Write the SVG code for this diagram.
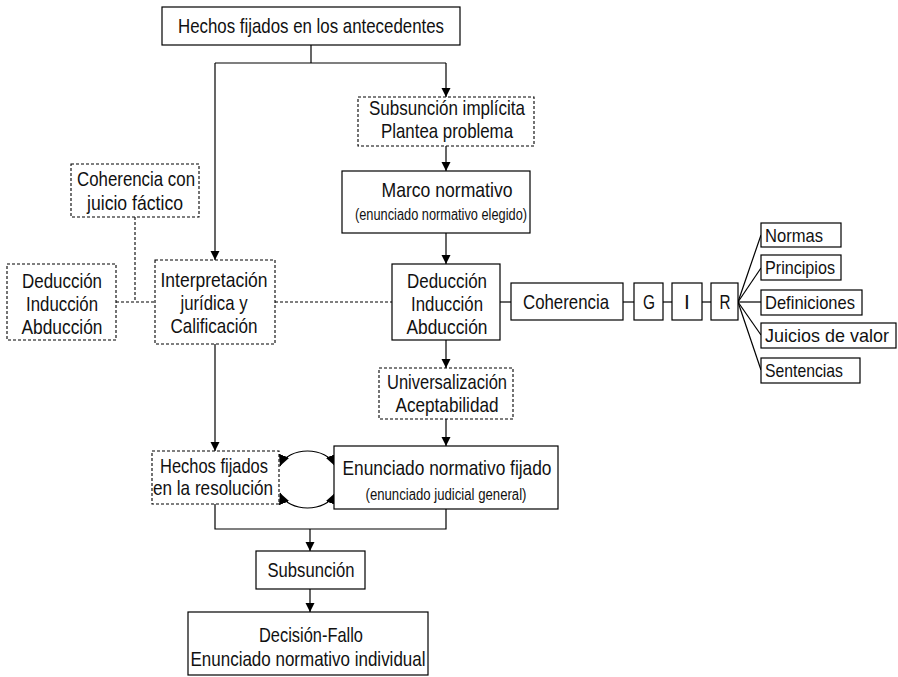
<svg xmlns="http://www.w3.org/2000/svg" width="898" height="677" viewBox="0 0 898 677">
  <style>
    .box { fill: #ffffff; stroke: #000000; stroke-width: 1.2; }
    .dash { fill: #ffffff; stroke: #000000; stroke-width: 1.1; stroke-dasharray: 3 2; }
    .t { font-family: "Liberation Sans", Arial, sans-serif; font-size: 21px; fill: #111111; text-anchor: middle; }
    .r { font-family: "Liberation Sans", Arial, sans-serif; font-size: 19px; fill: #111111; text-anchor: start; }
    .s { font-family: "Liberation Sans", Arial, sans-serif; font-size: 16px; fill: #111111; text-anchor: middle; }
    .ln { fill: none; stroke: #000000; stroke-width: 1.2; }
    .dl { fill: none; stroke: #000000; stroke-width: 1.1; stroke-dasharray: 3 2; }
    .arr { marker-end: url(#ah); }
    .loop { marker-start: url(#lh); marker-end: url(#lh); }
  </style>
  <defs>
    <marker id="ah" markerUnits="userSpaceOnUse" markerWidth="9" markerHeight="10" viewBox="0 0 10 10" refX="10" refY="5" orient="auto-start-reverse">
      <path d="M0,0 L10,5 L0,10 z" fill="#000000"/>
    </marker>
    <!-- larger heads for the two-way loop -->
    <marker id="lh" markerUnits="userSpaceOnUse" markerWidth="11" markerHeight="11" viewBox="0 0 10 10" refX="10" refY="5" orient="auto-start-reverse">
      <path d="M0,0 L10,5 L0,10 z" fill="#000000"/>
    </marker>
  </defs>
  <rect width="898" height="677" fill="#ffffff"/>

  <!-- connectors -->
  <g id="connectors">
    <polyline class="ln" points="311,45 311,63"/>
    <polyline class="ln" points="215,63 446,63"/>
    <polyline class="ln arr" points="446,63 446,97"/>
    <polyline class="ln arr" points="215,63 215,260"/>
    <polyline class="ln arr" points="446,146 446,171"/>
    <polyline class="ln arr" points="446,233 446,264"/>
    <polyline class="dl" points="135,217 135,302"/>
    <polyline class="dl" points="116,302 155,302"/>
    <polyline class="dl" points="275,302 392,302"/>
    <polyline class="ln" points="500,302 511,302"/>
    <polyline class="ln" points="623,302 634,302"/>
    <polyline class="ln" points="663,302 672,302"/>
    <polyline class="ln" points="702,302 711,302"/>
    <polyline class="ln" points="738,302 761,235"/>
    <polyline class="ln" points="738,302 761,268"/>
    <polyline class="ln" points="738,302 761,302"/>
    <polyline class="ln" points="738,302 761,335"/>
    <polyline class="ln" points="738,302 761,370"/>
    <polyline class="ln arr" points="446,340 446,368"/>
    <polyline class="ln arr" points="446,419 446,446"/>
    <polyline class="ln arr" points="215,344 215,451"/>
    <path class="ln loop" d="M280,466 C288,446 327,446 335,466"/>
    <path class="ln loop" d="M280,493 C288,513 327,513 335,493"/>
    <polyline class="ln" points="215,504 215,529 446,529 446,509"/>
    <polyline class="ln arr" points="310,529 310,551"/>
    <polyline class="ln arr" points="310,589 310,612"/>
  </g>

  <g id="hechos-antecedentes">
    <rect class="box" x="162" y="7" width="298" height="38"/>
    <text class="t" x="311" y="33" textLength="266" lengthAdjust="spacingAndGlyphs">Hechos fijados en los antecedentes</text>
  </g>

  <g id="subsuncion-implicita">
    <rect class="dash" x="358" y="97" width="176" height="49"/>
    <text class="t" x="447" y="115" textLength="156" lengthAdjust="spacingAndGlyphs">Subsunción implícita</text>
    <text class="t" x="447" y="138" textLength="132" lengthAdjust="spacingAndGlyphs">Plantea problema</text>
  </g>

  <g id="marco-normativo">
    <rect class="box" x="342" y="171" width="188" height="62"/>
    <text class="t" x="447" y="197" textLength="131" lengthAdjust="spacingAndGlyphs">Marco normativo</text>
    <text class="s" x="441" y="220" textLength="172" lengthAdjust="spacingAndGlyphs">(enunciado normativo elegido)</text>
  </g>

  <g id="coherencia-juicio">
    <rect class="dash" x="71" y="164" width="128" height="53"/>
    <text class="t" x="136" y="186" textLength="118" lengthAdjust="spacingAndGlyphs">Coherencia con</text>
    <text class="t" x="135" y="210" textLength="96" lengthAdjust="spacingAndGlyphs">juicio fáctico</text>
  </g>

  <g id="deduccion-izq">
    <rect class="dash" x="7" y="264" width="109" height="76"/>
    <text class="t" x="62" y="288" textLength="80" lengthAdjust="spacingAndGlyphs">Deducción</text>
    <text class="t" x="62" y="311" textLength="72" lengthAdjust="spacingAndGlyphs">Inducción</text>
    <text class="t" x="62" y="334" textLength="81" lengthAdjust="spacingAndGlyphs">Abducción</text>
  </g>

  <g id="interpretacion">
    <rect class="dash" x="155" y="260" width="120" height="84"/>
    <text class="t" x="214" y="287" textLength="107" lengthAdjust="spacingAndGlyphs">Interpretación</text>
    <text class="t" x="214" y="310" textLength="67" lengthAdjust="spacingAndGlyphs">jurídica y</text>
    <text class="t" x="214" y="333" textLength="87" lengthAdjust="spacingAndGlyphs">Calificación</text>
  </g>

  <g id="deduccion-centro">
    <rect class="box" x="392" y="264" width="108" height="76"/>
    <text class="t" x="447" y="288" textLength="80" lengthAdjust="spacingAndGlyphs">Deducción</text>
    <text class="t" x="447" y="311" textLength="72" lengthAdjust="spacingAndGlyphs">Inducción</text>
    <text class="t" x="447" y="334" textLength="81" lengthAdjust="spacingAndGlyphs">Abducción</text>
  </g>

  <g id="coherencia">
    <rect class="box" x="511" y="283" width="112" height="37"/>
    <text class="t" x="566" y="309" textLength="86" lengthAdjust="spacingAndGlyphs">Coherencia</text>
  </g>
  <g id="g">
    <rect class="box" x="634" y="283" width="29" height="37"/>
    <text class="t" x="649" y="309" textLength="12" lengthAdjust="spacingAndGlyphs">G</text>
  </g>
  <g id="i">
    <rect class="box" x="672" y="283" width="30" height="37"/>
    <text class="t" x="687" y="309">I</text>
  </g>
  <g id="r">
    <rect class="box" x="711" y="283" width="27" height="37"/>
    <text class="t" x="725" y="309" textLength="11" lengthAdjust="spacingAndGlyphs">R</text>
  </g>

  <g id="normas">
    <rect class="box" x="761" y="223" width="80" height="24"/>
    <text class="r" x="765" y="242" textLength="58" lengthAdjust="spacingAndGlyphs">Normas</text>
  </g>
  <g id="principios">
    <rect class="box" x="761" y="255" width="80" height="25"/>
    <text class="r" x="765" y="274" textLength="70" lengthAdjust="spacingAndGlyphs">Principios</text>
  </g>
  <g id="definiciones">
    <rect class="box" x="761" y="290" width="101" height="25"/>
    <text class="r" x="765" y="309" textLength="90" lengthAdjust="spacingAndGlyphs">Definiciones</text>
  </g>
  <g id="juicios-valor">
    <rect class="box" x="761" y="323" width="135" height="25"/>
    <text class="r" x="765" y="342" textLength="124" lengthAdjust="spacingAndGlyphs">Juicios de valor</text>
  </g>
  <g id="sentencias">
    <rect class="box" x="761" y="358" width="99" height="25"/>
    <text class="r" x="765" y="377" textLength="78" lengthAdjust="spacingAndGlyphs">Sentencias</text>
  </g>

  <g id="universalizacion">
    <rect class="dash" x="379" y="368" width="134" height="51"/>
    <text class="t" x="447" y="389" textLength="120" lengthAdjust="spacingAndGlyphs">Universalización</text>
    <text class="t" x="447" y="412" textLength="103" lengthAdjust="spacingAndGlyphs">Aceptabilidad</text>
  </g>

  <g id="hechos-resolucion">
    <rect class="dash" x="152" y="451" width="127" height="53"/>
    <text class="t" x="214" y="473" textLength="108" lengthAdjust="spacingAndGlyphs">Hechos fijados</text>
    <text class="t" x="213" y="495" textLength="120" lengthAdjust="spacingAndGlyphs">en la resolución</text>
  </g>

  <g id="enunciado-fijado">
    <rect class="box" x="334" y="446" width="224" height="63"/>
    <text class="t" x="447" y="475" textLength="209" lengthAdjust="spacingAndGlyphs">Enunciado normativo fijado</text>
    <text class="s" x="446" y="500" textLength="161" lengthAdjust="spacingAndGlyphs">(enunciado judicial general)</text>
  </g>

  <g id="subsuncion">
    <rect class="box" x="256" y="551" width="109" height="38"/>
    <text class="t" x="311" y="577" textLength="87" lengthAdjust="spacingAndGlyphs">Subsunción</text>
  </g>

  <g id="decision">
    <rect class="box" x="188" y="612" width="240" height="63"/>
    <text class="t" x="311" y="642" textLength="104" lengthAdjust="spacingAndGlyphs">Decisión-Fallo</text>
    <text class="t" x="308" y="666" textLength="235" lengthAdjust="spacingAndGlyphs">Enunciado normativo individual</text>
  </g>
</svg>
